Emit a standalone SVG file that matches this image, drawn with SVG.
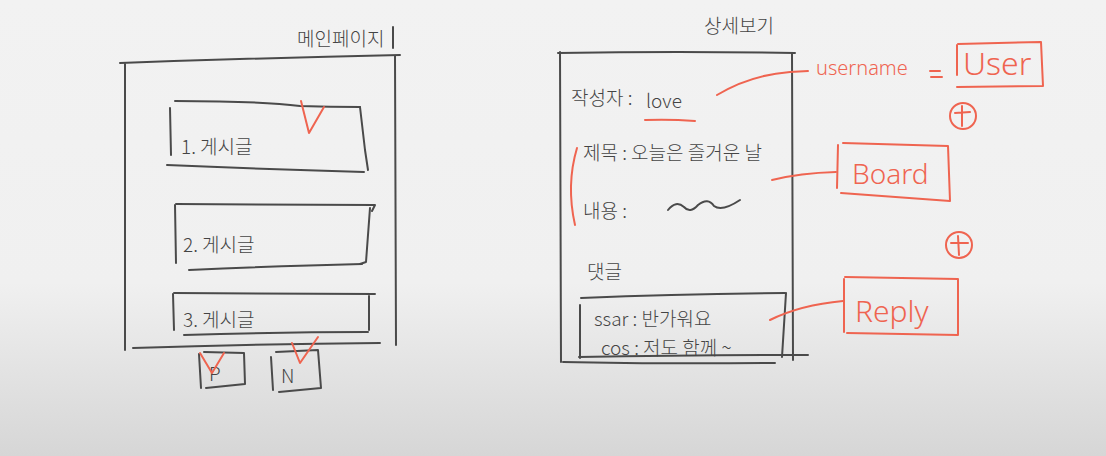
<svg xmlns="http://www.w3.org/2000/svg" width="1106" height="456" viewBox="0 0 1106 456">
<defs>
<linearGradient id="bg" x1="0" y1="0" x2="0" y2="1">
<stop offset="0" stop-color="#f2f2f2"/>
<stop offset="0.62" stop-color="#f0f0f0"/>
<stop offset="1" stop-color="#d6d6d6"/>
</linearGradient>
<style>
.k{fill:none;stroke:#4a4a4a;stroke-width:2;stroke-linecap:round;stroke-linejoin:round}
.r{fill:none;stroke:#ef6450;stroke-width:2;stroke-linecap:round;stroke-linejoin:round}
.t{font-family:"Noto Sans CJK KR","Noto Sans",sans-serif;font-weight:300;fill:#444;font-size:19px}
.tr{font-family:"Noto Sans","Noto Sans CJK KR",sans-serif;font-weight:300;fill:#ef6450}
</style>
</defs>
<rect width="1106" height="456" fill="url(#bg)"/>

<g id="main-page">
<text class="t" x="297" y="46" font-size="18">메인페이지</text>
<path class="k" d="M393 27 L393 48"/>
<path class="k" d="M120 63 Q260 58 400 55"/>
<path class="k" d="M125 64 L125 350"/>
<path class="k" d="M395 56 L396 345"/>
<path class="k" d="M133 348 Q260 344 380 343"/>
</g>

<g id="post-1">
<path class="k" d="M175 101 Q260 101 300 106 Q330 107 360 107"/>
<path class="k" d="M170 108 L171 155"/>
<path class="k" d="M360 107 L365 150 L368 170"/>
<path class="k" d="M167 165 Q260 169 364 172"/>
<text class="t" x="181" y="154" font-size="23">1. 게시글</text>
<path class="r" d="M301 101 L309 133 L324 107"/>
</g>

<g id="post-2">
<path class="k" d="M176 204 L375 205 L372 211"/>
<path class="k" d="M175 205 L176 263"/>
<path class="k" d="M370 208 L366 262 L360 264"/>
<path class="k" d="M189 270 Q280 266 362 264"/>
<text class="t" x="183" y="252" font-size="23">2. 게시글</text>
</g>

<g id="post-3">
<path class="k" d="M174 293 L375 294"/>
<path class="k" d="M173 294 L174 330"/>
<path class="k" d="M369 296 L369 330"/>
<path class="k" d="M184 335 Q280 332 368 332"/>
<text class="t" x="183" y="327" font-size="23">3. 게시글</text>
</g>

<g id="btn-prev">
<path class="k" d="M199 354 L201 388"/>
<path class="k" d="M204 352 L244 353 L245 384 L206 388"/>
<text class="t" x="209" y="381" font-size="22">P</text>
<path class="r" d="M200 353 L212 373 L224 353"/>
</g>
<g id="btn-next">
<path class="k" d="M271 357 L273 390"/>
<path class="k" d="M276 352 L318 350 L321 388 L279 392"/>
<text class="t" x="281" y="383" font-size="22">N</text>
<path class="r" d="M292 343 L300 363 L318 337"/>
</g>

<g id="detail-page">
<text class="t" x="704" y="33" font-size="20">상세보기</text>
<path class="k" d="M558 53 Q680 51 795 53"/>
<path class="k" d="M560 52 L561 362"/>
<path class="k" d="M792 53 L793 360"/>
<path class="k" d="M563 362 Q650 364 775 363"/>
<text class="t" x="571" y="105" font-size="16">작성자 :</text>
<text class="t" x="646" y="108" font-size="25">love</text>
<path class="r" d="M645 120 Q670 119 695 121"/>
<text class="t" x="583" y="160" font-size="19">제목 :  오늘은 즐거운 날</text>
<text class="t" x="583" y="218" font-size="19">내용 :</text>
<path class="k" d="M668 210 Q676 200 684 207 Q690 214 698 205 Q708 197 714 206 Q722 212 740 200"/>
<path class="r" d="M577 148 Q566 185 575 225"/>
<text class="t" x="587" y="279" font-size="18">댓글</text>
</g>

<g id="reply-list">
<path class="k" d="M581 298 Q680 294 785 293"/>
<path class="k" d="M580 305 L580 358"/>
<path class="k" d="M786 293 L782 357"/>
<path class="k" d="M579 357 Q690 355 808 355"/>
<text class="t" x="594" y="326" font-size="17">ssar :  반가워요</text>
<text class="t" x="601" y="355" font-size="17">cos :  저도 함께 ~</text>
</g>

<g id="connectors">
<path class="r" d="M717 95 Q750 75 790 72 L808 71"/>
<path class="r" d="M772 180 Q800 173 836 172"/>
<path class="r" d="M770 320 Q800 305 843 301"/>
</g>

<g id="user-entity">
<text class="tr" x="816" y="75" font-size="20">username</text>
<path class="r" d="M930 71 L940 71 M931 77 L942 77"/>
<path class="r" d="M958 44 L1041 42 L1043 86 L957 87"/>
<path class="r" d="M957 45 L957 75"/>
<text class="tr" x="963" y="75" font-size="32">User</text>
</g>

<g id="plus-1">
<circle class="r" cx="963" cy="116" r="13"/>
<path class="r" d="M955 113 L970 112 M962 106 L962 126"/>
</g>

<g id="board-entity">
<path class="r" d="M843 143 L948 146 L950 201 L841 193"/>
<path class="r" d="M838 145 L837 188"/>
<text class="tr" x="852" y="184" font-size="28">Board</text>
</g>

<g id="plus-2">
<circle class="r" cx="959" cy="245" r="13"/>
<path class="r" d="M951 243 L968 243 M958 236 L959 255"/>
</g>

<g id="reply-entity">
<path class="r" d="M845 277 L958 279 L958 335 L847 333"/>
<path class="r" d="M844 279 L844 332"/>
<text class="tr" x="855" y="322" font-size="30">Reply</text>
</g>
</svg>
